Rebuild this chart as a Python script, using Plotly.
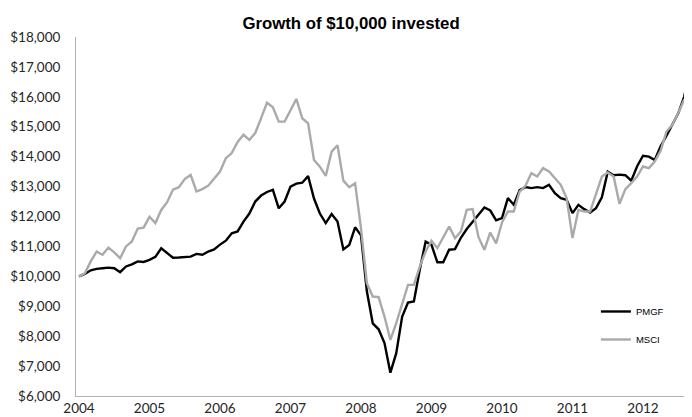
import plotly.graph_objects as go

# Monthly index (category positions) and year tick labels
year_labels = ["2004", "2005", "2006", "2007", "2008", "2009", "2010", "2011", "2012"]
year_positions = [0, 12, 24, 36, 48, 60, 72, 84, 96]

pmgf = [10000, 10080, 10200, 10250, 10270, 10290, 10270, 10140, 10330, 10400,
        10500, 10480, 10550, 10650, 10940, 10770, 10620, 10630, 10650, 10660,
        10750, 10720, 10830, 10900, 11060, 11190, 11440, 11500, 11830, 12100,
        12500, 12700, 12820, 12890, 12275, 12500, 13000, 13100, 13130, 13350,
        12600, 12100, 11780, 12080, 11830, 10900, 11050, 11640, 11370, 9500,
        8430, 8230, 7770, 6780, 7430, 8650, 9120, 9160, 10220, 11160,
        11050, 10470, 10470, 10890, 10910, 11290, 11580, 11830, 12050, 12300,
        12200, 11870, 11945, 12614, 12390, 12880, 12982, 12949, 12982, 12949,
        13060, 12782, 12614, 12558, 12113, 12390, 12246, 12133, 12280, 12640,
        13500, 13380, 13400, 13380, 13200, 13680, 14030, 14000, 13890, 14350,
        14700, 15050, 15450, 16000, 16900, 17500]

msci = [10000, 10100, 10500, 10830, 10720, 10960, 10800, 10607, 11000, 11165,
        11600, 11630, 11990, 11780, 12220, 12480, 12900, 12980, 13250, 13390,
        12835, 12915, 13030, 13283, 13504, 13950, 14120, 14490, 14730, 14560,
        14790, 15290, 15805, 15650, 15170, 15170, 15560, 15930, 15283, 15116,
        13890, 13666, 13355, 14168, 14382, 13200, 12980, 13110, 11600, 9772,
        9324, 9304, 8655, 7876, 8434, 9046, 9715, 9715, 10327, 10829,
        11190, 10942, 11300, 11665, 11277, 11498, 12223, 12246, 11310, 10886,
        11465, 11100, 11800, 12166, 12166, 12835, 13026, 13450, 13337, 13618,
        13504, 13283, 13060, 12614, 11277, 12223, 12166, 12166, 12725, 13337,
        13470, 13337, 12424, 12915, 13115, 13337, 13671, 13618, 13838, 14200,
        14842, 15066, 15457, 15900, 16050, 15800]

months = list(range(len(pmgf)))

fig = go.Figure()
fig.add_trace(go.Scatter(x=months, y=pmgf, mode="lines", name="PMGF",
                         legendgroup="a",
                         line=dict(color="#000000", width=2.4)))
fig.add_trace(go.Scatter(x=months, y=msci, mode="lines", name="MSCI",
                         legendgroup="b",
                         line=dict(color="#AAAAAA", width=2.4)))

# The page body adds an 8px margin, so the figure is sized to fill the window from (8, 8).
fig.update_layout(
    width=684, height=409,
    margin=dict(l=68, r=0, t=29, b=21, autoexpand=False),
    paper_bgcolor="white", plot_bgcolor="white",
    title=dict(text="<b>Growth of $10,000 invested</b>",
               font=dict(family="Liberation Sans, Arial", size=16.8, color="#000000"),
               x=0.5015, xref="container", xanchor="center",
               y=0.978, yref="container", yanchor="top", automargin=False),
    legend=dict(x=0.844, xanchor="left", y=0.2758, yanchor="top",
                traceorder="grouped", tracegroupgap=9,
                font=dict(family="Liberation Sans, Arial", size=9.5, color="#000000"),
                bgcolor="rgba(0,0,0,0)"),
    showlegend=True,
)

fig.update_xaxes(range=[-0.51, 104.34], tickvals=year_positions, ticktext=year_labels,
                 automargin=False,
                 showgrid=False, zeroline=False, showline=True, linecolor="#B3B3B3",
                 linewidth=1, ticks="",
                 tickfont=dict(family="Lato", size=13.5, color="#262626"))
fig.update_yaxes(range=[6000, 18000], dtick=1000, tick0=6000, tickprefix="$",
                 automargin=False,
                 tickformat=",.0f", showgrid=False, zeroline=False, showline=True,
                 linecolor="#B3B3B3", linewidth=1, ticks="", ticklabelstandoff=12,
                 tickfont=dict(family="Lato", size=13.5, color="#262626"))

fig.write_html("out.html")
